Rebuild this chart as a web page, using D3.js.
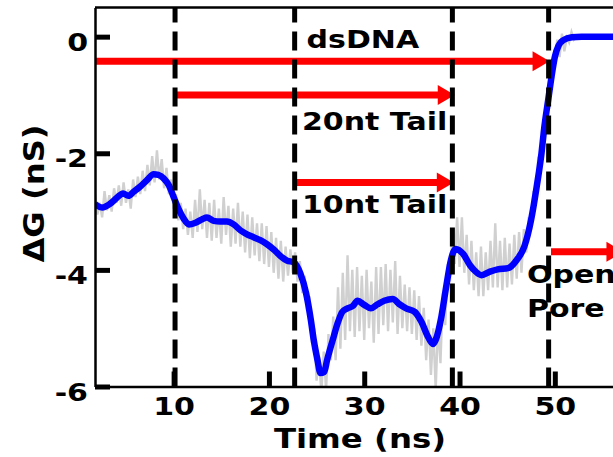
<!DOCTYPE html>
<html>
<head>
<meta charset="utf-8">
<script src="https://cdn.jsdelivr.net/npm/d3@7"></script>
<style>
  html, body { margin: 0; padding: 0; background: #fff; }
  svg { display: block; }
  text { font-family: "DejaVu Sans", sans-serif; font-weight: bold; fill: #000; }
</style>
</head>
<body>
<script>
const width = 613, height = 457;

// smoothed conductance change (blue)
const smoothTime = [1.75, 2.5, 3.3, 4.0, 4.7, 5.25, 5.8, 6.5, 7.2, 7.9, 8.4, 8.95, 9.5, 10.0, 10.5,
  11.05, 11.6, 12.3, 13.0, 13.5, 14.2, 14.9, 15.6, 16.3, 17.0, 17.7, 18.4, 19.1, 19.8, 20.5,
  21.2, 21.9, 22.6, 23.3, 23.9, 24.4, 24.7, 25.1, 25.4, 25.8, 26.1, 26.7, 27.2, 27.7, 28.25,
  28.8, 29.3, 30.0, 30.7, 31.4, 32.1, 33.0, 33.7, 34.4, 35.3, 36.0, 36.7, 37.2, 37.5, 38.1,
  38.6, 39.1, 39.6, 40.4, 41.1, 41.7, 42.3, 43.2, 44.0, 45.1, 46.0, 46.8, 47.5, 48.1, 48.6,
  48.9, 49.3, 49.65, 50.0, 50.4, 50.9, 51.8, 52.8, 60];
const smoothG = [-2.87, -2.93, -2.87, -2.77, -2.69, -2.73, -2.66, -2.57, -2.46, -2.36, -2.37, -2.43, -2.55, -2.75, -2.95,
  -3.12, -3.22, -3.19, -3.13, -3.10, -3.16, -3.17, -3.17, -3.22, -3.32, -3.39, -3.44, -3.49, -3.56, -3.65,
  -3.76, -3.84, -3.87, -4.06, -4.40, -4.86, -5.20, -5.55, -5.77, -5.75, -5.55, -5.20, -4.92, -4.72, -4.66,
  -4.62, -4.53, -4.60, -4.66, -4.59, -4.53, -4.50, -4.59, -4.66, -4.72, -4.89, -5.15, -5.27, -5.20, -4.80,
  -4.29, -3.83, -3.64, -3.73, -3.92, -4.03, -4.09, -4.03, -3.99, -3.97, -3.83, -3.60, -3.15, -2.57, -2.00,
  -1.55, -1.09, -0.69, -0.35, -0.15, -0.06, -0.01, 0.0, 0.0];

// raw trace (grey), one sample every 0.25 ns starting at 1.75 ns
const rawStart = 1.75, rawStep = 0.25;
const rawG = [
  -2.70, -3.05, -2.85, -3.10, -2.65, -2.98, -2.72, -3.00, -2.60, -2.85,
  -2.55, -2.90, -2.50, -2.85, -2.62, -2.95, -2.45, -2.75, -2.40, -2.70,
  -2.30, -2.65, -2.20, -2.55, -2.05, -2.50, -1.95, -2.45, -2.10, -2.60,
  -2.25, -2.70, -2.45, -2.95, -2.70, -3.15, -2.85, -3.30, -2.95, -3.40,
  -3.00, -3.45, -2.80, -3.35, -2.62, -3.30, -2.80, -3.45, -2.85, -3.50,
  -2.80, -3.45, -2.95, -3.55, -2.75, -3.40, -2.90, -3.60, -2.95, -3.55,
  -2.85, -3.60, -3.00, -3.70, -3.05, -3.80, -3.10, -3.75, -3.20, -3.85,
  -3.20, -3.90, -3.25, -3.95, -3.35, -4.05, -3.45, -4.15, -3.50, -4.20,
  -3.60, -4.10, -3.65, -4.05, -3.70, -4.20, -3.85, -4.40, -4.10, -4.70,
  -4.45, -5.25, -5.00, -5.90, -5.50, -6.10, -5.40, -6.05, -5.10, -5.55,
  -4.80, -5.55, -4.30, -5.35, -4.05, -5.20, -3.75, -5.05, -4.00, -5.15,
  -3.95, -5.05, -4.10, -5.20, -4.00, -5.00, -4.20, -5.25, -3.95, -5.10,
  -3.95, -4.95, -3.90, -5.05, -4.00, -4.90, -3.85, -5.10, -4.10, -5.00,
  -4.25, -5.05, -4.30, -5.10, -4.35, -5.20, -4.45, -5.30, -4.65, -5.55,
  -4.85, -5.80, -5.00, -6.05, -4.90, -5.60, -4.40, -4.95, -3.90, -4.20,
  -3.40, -3.90, -3.10, -3.95, -3.10, -4.05, -3.40, -4.25, -3.50, -4.35,
  -3.70, -4.45, -3.60, -4.45, -3.70, -4.35, -3.50, -4.30, -3.20, -4.30,
  -3.50, -4.35, -3.45, -4.30, -3.55, -4.25, -3.40, -4.15, -3.35, -4.05,
  -3.30, -3.70, -3.10, -3.30, -2.65, -2.75, -2.10, -2.15, -1.55, -1.60,
  -1.00, -0.95, -0.45, -0.50, -0.05, -0.35, 0.05, -0.25, -0.02, -0.10,
  0.08, -0.05, 0.0];

const xTicks = [10, 20, 30, 40, 50];
const yTicks = [0, -2, -4, -6];

// event boundaries (dashed lines)
const eventTimes = [10.15, 22.7, 39.25, 49.35];

// red arrows
const arrowStart = [0, 10.0, 22.6, 49.6];
const arrowEnd = [49.45, 39.5, 39.4, 57.2];
const arrowLevel = [-0.42, -1.0, -2.5, -3.69];

// annotation text and anchor (time, dG)
const noteText = ["dsDNA", "20nt Tail", "10nt Tail", "Open", "Pore"];
const noteTime = [23.95, 23.47, 23.47, 47.08, 47.08];
const noteLevel = [-0.195, -1.60, -3.025, -4.225, -4.81];

const svg = d3.select("body").append("svg")
  .attr("width", width).attr("height", height);

const x = d3.scaleLinear().domain([1.75, 58]).range([95, 95 + 56.25 * 9.53]);
const y = d3.scaleLinear().domain([-6, 0.5]).range([386.5, 7.5]);

svg.append("clipPath").attr("id", "plot")
  .append("rect").attr("x", 95).attr("y", 7.5).attr("width", 600).attr("height", 379);

// stretch glyphs horizontally like the original
function stretch(sel, k = 1.2) {
  sel.each(function() {
    const n = this.getComputedTextLength();
    d3.select(this).attr("textLength", n * k).attr("lengthAdjust", "spacingAndGlyphs");
  });
}

const plot = svg.append("g").attr("clip-path", "url(#plot)");

const rawLine = d3.line()
  .x((d, i) => x(rawStart + i * rawStep))
  .y(d => y(d));

plot.append("path")
  .datum(rawG)
  .attr("fill", "none")
  .attr("stroke", "#d0d0d0")
  .attr("stroke-width", 2.4)
  .attr("d", rawLine);

const smoothLine = d3.line()
  .x((d, i) => x(smoothTime[i]))
  .y(d => y(d))
  .curve(d3.curveMonotoneX);

plot.append("path")
  .datum(smoothG)
  .attr("fill", "none")
  .attr("stroke", "#0000ff")
  .attr("stroke-width", 6.5)
  .attr("stroke-linejoin", "round")
  .attr("d", smoothLine);

// arrows
const headLen = 17, headHalf = 10;
arrowLevel.forEach((lv, i) => {
  const x0 = x(arrowStart[i]), x1 = x(arrowEnd[i]), yy = y(lv);
  plot.append("line")
    .attr("x1", x0).attr("x2", x1 - headLen + 1)
    .attr("y1", yy).attr("y2", yy)
    .attr("stroke", "#ff0000").attr("stroke-width", 7);
  plot.append("path")
    .attr("d", `M${x1},${yy}L${x1 - headLen},${yy - headHalf}L${x1 - headLen},${yy + headHalf}Z`)
    .attr("fill", "#ff0000");
});

// annotations
const notes = plot.selectAll("text.note")
  .data(noteText)
  .join("text")
  .attr("class", "note")
  .attr("x", (d, i) => x(noteTime[i]))
  .attr("y", (d, i) => y(noteLevel[i]))
  .attr("font-size", 25)
  .text(d => d);
stretch(notes);

// dashed event lines
plot.selectAll("path.event")
  .data(eventTimes)
  .join("path")
  .attr("class", "event")
  .attr("d", d => `M${x(d)},${y(-6)}V${y(0.5)}`)
  .attr("stroke", "#000")
  .attr("stroke-width", 5)
  .attr("stroke-dasharray", "19,9");

// axes
const xAxis = svg.append("g")
  .attr("transform", `translate(0,${y(-6)})`)
  .call(d3.axisBottom(x).tickValues(xTicks).tickFormat(d3.format("d"))
    .tickSizeInner(-15).tickSizeOuter(0).tickPadding(0));
xAxis.select(".domain").attr("stroke-width", 2.5);
xAxis.selectAll(".tick line").attr("stroke-width", 5);
xAxis.selectAll(".tick text")
  .attr("y", 28).attr("dy", null)
  .attr("font-size", 25).attr("font-family", null).attr("fill", null)
  .call(stretch);

const yAxis = svg.append("g")
  .attr("transform", `translate(${x(1.75)},0)`)
  .call(d3.axisLeft(y).tickValues(yTicks).tickFormat(d3.format("d"))
    .tickSizeInner(-15).tickSizeOuter(0).tickPadding(7));
yAxis.select(".domain").attr("stroke-width", 2.5);
yAxis.selectAll(".tick line").attr("stroke-width", 5);
yAxis.selectAll(".tick text")
  .attr("dy", 13.5)
  .attr("font-size", 25).attr("font-family", null).attr("fill", null)
  .text(d => d === 0 ? "0" : d3.format("d")(d).replace("−", "-"))
  .call(stretch);

// top spine
svg.append("line")
  .attr("x1", 95).attr("x2", width).attr("y1", 7.5).attr("y2", 7.5)
  .attr("stroke", "#000").attr("stroke-width", 2.5);

// axis titles
svg.append("text")
  .attr("x", 360).attr("y", 448)
  .attr("text-anchor", "middle")
  .attr("font-size", 27)
  .text("Time (ns)")
  .call(stretch);

svg.append("text")
  .attr("transform", "translate(43.5,193.5) rotate(-90)")
  .attr("text-anchor", "middle")
  .attr("font-size", 28)
  .text("ΔG (nS)")
  .call(stretch, 1.15);
</script>
</body>
</html>
